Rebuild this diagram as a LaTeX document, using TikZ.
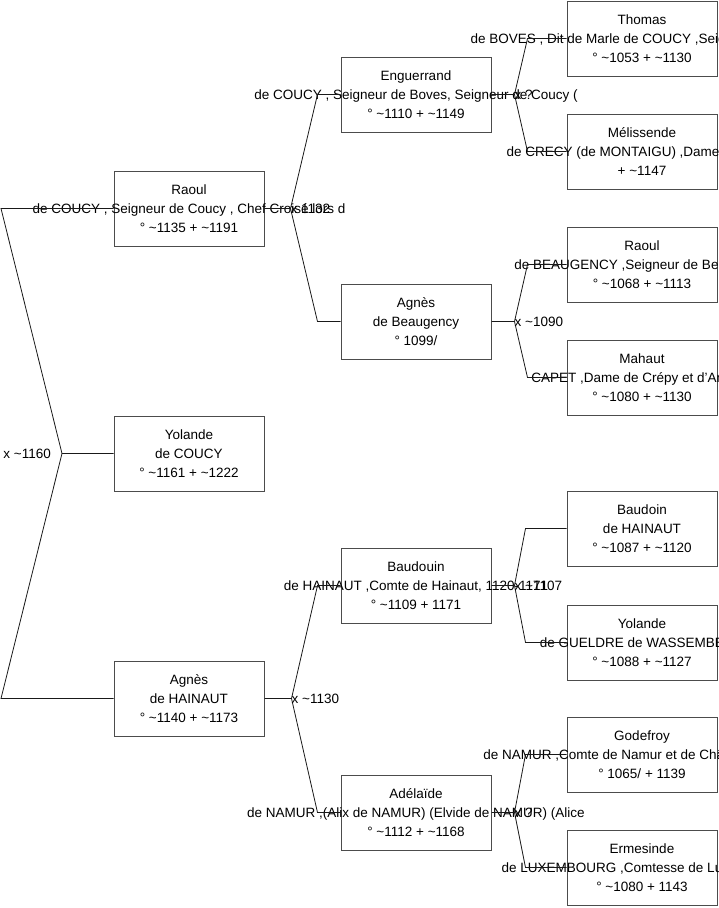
\documentclass[tikz,border=0pt]{standalone}
\usepackage{fontspec}
\setmainfont{Liberation Sans}
\usetikzlibrary{positioning}
\usetikzlibrary{calc}

\newcommand\circa{\textasciitilde}

\tikzset{
  person/.style={draw=black!70, line width=1pt, minimum width=150pt, minimum height=75pt, inner sep=0pt},
  info/.style={align=center, font=\fontsize{13.5}{19}\selectfont, inner sep=0pt},
  link/.style={black!90, line width=0.8pt},
  wed/.style={font=\fontsize{13.5}{19}\selectfont, inner sep=0pt},
}

\begin{document}
\begin{tikzpicture}[x=1pt,y=-1pt]

\useasboundingbox (0,0) rectangle (719,908);
\clip (0,0) rectangle (719,908);

%---------------------------------------
% Boxes
%---------------------------------------
% column 1
\node[person] (raoul)   at (189,208.5) {};
\node[person] (yolande) at (189,453.5) {};
\node[person] (agnesh)  at (189,698.5) {};

% column 2
\node[person] (enguerrand) at (416,94.5)  {};
\node[person] (agnesb)     at (416,321.5) {};
\node[person] (baudouin)   at (416,585.5) {};
\node[person] (adelaide)   at (416,812.5) {};

% column 3
\node[person] (thomas)     at (642,38.5)  {};
\node[person] (melissende) at (642,151.5) {};
\node[person] (raoulb)     at (642,264.5) {};
\node[person] (mahaut)     at (642,377.5) {};
\node[person] (baudoin)    at (642,528.5) {};
\node[person] (yolandeg)   at (642,642.5) {};
\node[person] (godefroy)   at (642,754.5) {};
\node[person] (ermesinde)  at (642,867.5) {};

%---------------------------------------
% Texts
%---------------------------------------
\node[info] (raoul-t) at (raoul)
  {Raoul\\de COUCY , Seigneur de Coucy , Chef Croisé lors d\\° \circa1135 + \circa1191};
\node[info] (yolande-t) at (yolande)
  {Yolande\\de COUCY\\° \circa1161 + \circa1222};
\node[info] (agnesh-t) at (agnesh)
  {Agnès\\de HAINAUT\\° \circa1140 + \circa1173};

\node[info] (enguerrand-t) at (enguerrand)
  {Enguerrand\\de COUCY , Seigneur de Boves, Seigneur de Coucy (\\° \circa1110 + \circa1149};
\node[info] (agnesb-t) at (agnesb)
  {Agnès\\de Beaugency\\° 1099/};
\node[info] (baudouin-t) at (baudouin)
  {Baudouin\\de HAINAUT ,Comte de Hainaut, 1120-1171\\° \circa1109 + 1171};
\node[info] (adelaide-t) at (adelaide)
  {Adélaïde\\de NAMUR ,(Alix de NAMUR) (Elvide de NAMUR) (Alice\\° \circa1112 + \circa1168};

\node[info] (thomas-t) at (thomas)
  {Thomas\\de BOVES , Dit de Marle de COUCY ,Seigneur de Coucy\\° \circa1053 + \circa1130};
\node[info] (melissende-t) at (melissende)
  {Mélissende\\de CRECY (de MONTAIGU) ,Dame de Crécy\\+ \circa1147};
\node[info] (raoulb-t) at (raoulb)
  {Raoul\\de BEAUGENCY ,Seigneur de Beaugency\\° \circa1068 + \circa1113};
\node[info] (mahaut-t) at (mahaut)
  {Mahaut\\CAPET ,Dame de Crépy et d'Amiens\\° \circa1080 + \circa1130};
\node[info] (baudoin-t) at (baudoin)
  {Baudoin\\de HAINAUT\\° \circa1087 + \circa1120};
\node[info] (yolandeg-t) at (yolandeg)
  {Yolande\\de GUELDRE de WASSEMBERG\\° \circa1088 + \circa1127};
\node[info] (godefroy-t) at (godefroy)
  {Godefroy\\de NAMUR ,Comte de Namur et de Château-Porcien\\° 1065/ + 1139};
\node[info] (ermesinde-t) at (ermesinde)
  {Ermesinde\\de LUXEMBOURG ,Comtesse de Luxembourg\\° \circa1080 + 1143};

%---------------------------------------
% Links
%---------------------------------------
% Yolande -> Raoul / Agnes
\coordinate (u1)  at (62,453.5);
\coordinate (u1a) at (1,208.5);
\coordinate (u1b) at (1,698.5);
\draw[link] (yolande.west) -- (u1) -- (u1a) -- (raoul.west);
\draw[link] (u1) -- (u1b) -- (agnesh.west);
\node[wed, anchor=east] (w1) at ([xshift=-11pt]u1) {x \circa1160};

% second column
\draw[link] (raoul.east) -- ++(26,0) coordinate (u2)
  -- ([xshift=-23pt]enguerrand.west) -- (enguerrand.west);
\draw[link] (u2) -- ([xshift=-23pt]agnesb.west) -- (agnesb.west);
\node[wed, anchor=west] (w2) at (u2) {x 1132};

\draw[link] (agnesh.east) -- ++(27,0) coordinate (u3)
  -- ([xshift=-23pt]baudouin.west) -- (baudouin.west);
\draw[link] (u3) -- ([xshift=-23pt]adelaide.west) -- (adelaide.west);
\node[wed, anchor=west] (w3) at (u3) {x \circa1130};

% third column
\draw[link] (enguerrand.east) -- ++(23,0) coordinate (u4)
  -- ([xshift=-39pt]thomas.west) -- (thomas.west);
\draw[link] (u4) -- ([xshift=-39pt]melissende.west) -- (melissende.west);
\node[wed, anchor=west] (w4) at (u4) {x ?};

\draw[link] (agnesb.east) -- ++(23,0) coordinate (u5)
  -- ([xshift=-39pt]raoulb.west) -- (raoulb.west);
\draw[link] (u5) -- ([xshift=-39pt]mahaut.west) -- (mahaut.west);
\node[wed, anchor=west] (w5) at (u5) {x \circa1090};

\draw[link] (baudouin.east) -- ++(23,0) coordinate (u6)
  -- ([xshift=-41pt]baudoin.west) -- (baudoin.west);
\draw[link] (u6) -- ([xshift=-41pt]yolandeg.west) -- (yolandeg.west);
\node[wed, anchor=west] (w6) at (u6) {x \circa1107};

\draw[link] (adelaide.east) -- ++(23,0) coordinate (u7)
  -- ([xshift=-41pt]godefroy.west) -- (godefroy.west);
\draw[link] (u7) -- ([xshift=-41pt]ermesinde.west) -- (ermesinde.west);
\node[wed, anchor=west] (w7) at (u7) {x ?};

\end{tikzpicture}
\end{document}
